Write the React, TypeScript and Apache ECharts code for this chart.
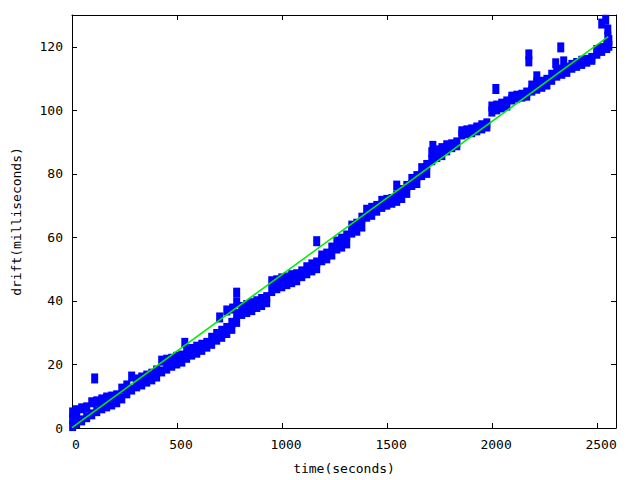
import React, { useEffect, useRef } from "react";
import * as echarts from "echarts";

// time (seconds) sample positions of the measured drift band
const bandTime = [
  3, 22, 46, 70, 94, 118, 142, 165, 189, 213, 237, 261, 284, 308, 332, 356, 380, 403,
  427, 451, 475, 499, 523, 546, 570, 594, 618, 642, 665, 689, 713, 737, 761, 784, 808,
  832, 856, 880, 903, 927, 951, 975, 999, 1023, 1046, 1070, 1094, 1118, 1142, 1165,
  1189, 1213, 1237, 1261, 1284, 1308, 1332, 1356, 1380, 1403, 1427, 1451, 1475, 1499,
  1523, 1546, 1570, 1594, 1618, 1642, 1665, 1689, 1713, 1737, 1761, 1784, 1808, 1832,
  1856, 1880, 1903, 1927, 1951, 1975, 1999, 2022, 2046, 2070, 2094, 2118, 2142, 2165,
  2189, 2213, 2237, 2261, 2284, 2308, 2332, 2356, 2380, 2403, 2427, 2451, 2475, 2499,
  2522, 2546, 2556,
];
// upper drift samples (milliseconds)
const bandHigh = [
  4.9, 5.6, 6.2, 6.5, 8.1, 8.4, 9.0, 9.6, 9.9, 10.3, 12.4, 13.4, 16.2, 15.3, 15.9, 16.5,
  17.1, 18.1, 21.2, 21.5, 21.8, 22.4, 22.8, 24.3, 24.9, 25.6, 26.2, 26.8, 28.4, 29.6,
  30.6, 31.5, 33.1, 35.9, 38.1, 38.7, 39.3, 39.9, 40.6, 41.2, 46.2, 46.5, 47.1, 47.4,
  48.1, 48.4, 49.3, 50.6, 51.5, 52.1, 54.3, 54.9, 56.8, 58.7, 59.6, 60.6, 63.7, 64.3,
  66.2, 68.7, 69.3, 69.9, 71.5, 71.8, 72.1, 73.1, 74.9, 76.2, 78.4, 79.3, 81.8, 82.8,
  86.8, 87.4, 88.1, 89.0, 89.3, 89.9, 93.4, 93.7, 94.0, 94.6, 95.3, 95.9, 101.2, 101.5,
  102.1, 102.8, 104.3, 104.6, 104.9, 105.6, 107.8, 108.7, 109.0, 109.6, 111.2, 111.8,
  112.8, 113.4, 114.3, 114.9, 115.6, 115.9, 116.5, 119.0, 119.6, 120.6, 122.1,
];
// lower drift samples (milliseconds)
const bandLow = [
  0.6, 1.5, 2.4, 3.4, 4.3, 5.3, 6.2, 6.8, 7.4, 8.1, 9.3, 10.9, 12.1, 13.1, 13.7, 14.6,
  15.3, 16.2, 17.8, 18.7, 19.6, 20.3, 20.9, 22.1, 23.1, 23.7, 24.6, 25.6, 26.5, 27.8,
  28.7, 29.9, 31.2, 33.4, 35.9, 36.5, 37.1, 38.1, 38.7, 39.6, 43.1, 44.0, 44.6, 45.3,
  45.9, 46.5, 47.8, 48.7, 49.6, 50.3, 52.8, 53.4, 54.6, 56.5, 57.1, 58.1, 61.5, 62.1,
  63.4, 66.5, 67.1, 68.4, 69.6, 70.3, 70.9, 71.5, 72.4, 74.0, 76.5, 77.1, 79.6, 80.3,
  84.3, 85.3, 85.9, 87.4, 88.4, 89.0, 92.4, 92.8, 93.1, 93.7, 94.3, 94.9, 99.6, 100.3,
  100.9, 101.5, 103.4, 104.0, 104.3, 104.6, 106.2, 106.8, 107.4, 108.1, 109.6, 110.9,
  111.5, 112.1, 113.4, 114.0, 114.6, 115.3, 115.9, 117.8, 118.7, 119.6, 120.3,
];
// isolated drift samples
const extraTime = [3, 22, 108, 537, 703, 737, 765, 784, 784, 1165, 1546, 1718, 2018, 2175, 2175, 2213, 2303, 2327, 2341, 2522, 2541, 2551, 2551];
const extraDrift = [2.8, 3.5, 15.6, 26.8, 34.8, 37.0, 37.6, 42.6, 39.5, 58.8, 76.3, 88.8, 106.7, 117.6, 115.4, 110.7, 114.8, 119.8, 115.4, 127.3, 128.5, 125.4, 123.2];
// least-squares fit line end points
const fitTime = [0, 2553];
const fitDrift = [0.1, 123.2];

const xTicksMax = 2590;
const yTicksMax = 130;

export default function App() {
  const ref = useRef<HTMLDivElement>(null);
  useEffect(() => {
    if (!ref.current) return;
    const chart = echarts.init(ref.current, null, { renderer: "svg" });
    const font = "DejaVu Sans Mono";
    const pts: number[][] = [];
    bandTime.forEach((t, i) => {
      pts.push([t, bandLow[i]]);
      pts.push([t, bandHigh[i]]);
    });
    extraTime.forEach((t, i) => pts.push([t, extraDrift[i]]));
    const axisLine = { show: true, onZero: false, lineStyle: { color: "#000", width: 1 } };
    const tick = { show: true, inside: true, length: 5, lineStyle: { color: "#000" } };
    const fmt = (v: number) => String(v);
    chart.setOption({
      animation: false,
      backgroundColor: "#fff",
      textStyle: { fontFamily: font },
      grid: { left: 72, top: 15, width: 544, height: 416, containLabel: false },
      xAxis: [
        {
          type: "value",
          position: "bottom",
          min: 0,
          max: xTicksMax,
          interval: 500,
          name: "time(seconds)",
          nameLocation: "middle",
          nameGap: 34,
          nameTextStyle: { color: "#000", fontFamily: font, fontSize: 13 },
          axisLine,
          axisTick: tick,
          axisLabel: {
            color: "#000",
            fontFamily: font,
            fontSize: 13,
            margin: 10,
            showMaxLabel: false,
            padding: [0, 0, 0, 8],
            formatter: fmt,
          },
          splitLine: { show: false },
        },
        {
          type: "value",
          position: "top",
          min: 0,
          max: xTicksMax,
          interval: 500,
          axisLine,
          axisTick: tick,
          axisLabel: { show: false },
          splitLine: { show: false },
        },
      ],
      yAxis: [
        {
          type: "value",
          position: "left",
          min: 0,
          max: yTicksMax,
          interval: 20,
          name: "drift(milliseconds)",
          nameLocation: "middle",
          nameGap: 49,
          nameTextStyle: { color: "#000", fontFamily: font, fontSize: 13 },
          axisLine,
          axisTick: tick,
          axisLabel: { color: "#000", fontFamily: font, fontSize: 13, margin: 9, showMaxLabel: false, formatter: fmt },
          splitLine: { show: false },
        },
        {
          type: "value",
          position: "right",
          min: 0,
          max: yTicksMax,
          interval: 20,
          axisLine,
          axisTick: tick,
          axisLabel: { show: false },
          splitLine: { show: false },
        },
      ],
      series: [
        {
          type: "scatter",
          xAxisIndex: 0,
          yAxisIndex: 0,
          data: pts,
          symbol: "rect",
          symbolSize: [7, 10],
          itemStyle: { color: "#0000ff", opacity: 1 },
          clip: false,
          z: 2,
        },
        {
          type: "line",
          xAxisIndex: 0,
          yAxisIndex: 0,
          data: fitTime.map((t, i) => [t, fitDrift[i]]),
          symbol: "none",
          lineStyle: { color: "#00ee00", width: 1.5 },
          z: 3,
        },
      ],
    });
    return () => chart.dispose();
  }, []);
  return (
    <div
      ref={ref}
      style={{ position: "absolute", left: 0, top: 0, width: 640, height: 480 }}
    />
  );
}
